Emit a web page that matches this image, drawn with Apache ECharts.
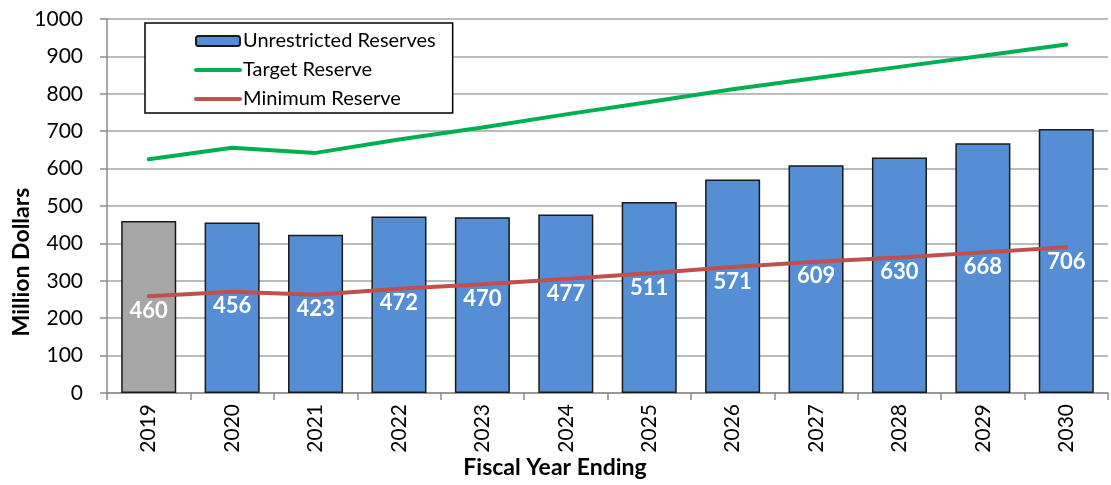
<!DOCTYPE html>
<html>
<head>
<meta charset="utf-8">
<script src="https://cdn.jsdelivr.net/npm/echarts@6/dist/echarts.min.js"></script>
<style>
  html, body { margin: 0; padding: 0; background: #fff; }
  #chart { width: 1111px; height: 485px; }
</style>
</head>
<body>
<div id="chart"></div>
<script>
  const years = ['2019', '2020', '2021', '2022', '2023', '2024', '2025', '2026', '2027', '2028', '2029', '2030']
  const unrestricted = [460, 456, 423, 472, 470, 477, 511, 571, 609, 630, 668, 706]
  const target = [625, 656, 642, 678, 710, 745, 778, 812, 842, 872, 902, 932]
  const minimum = [259, 271, 263, 279, 291, 305, 320, 337, 351, 362, 376, 390]

  const axisGray = '#8c8c8c'
  const gridGray = '#a6a6a6'
  const font = 'Lato, "Open Sans", sans-serif'

  const chart = echarts.init(document.getElementById('chart'))

  // line legend icons: plain thick line, no dot
  const lineIcon = { itemStyle: { opacity: 0 }, lineStyle: { width: 4, cap: 'round' } }

  const option = {
    animation: false,
    textStyle: { fontFamily: font },
    grid: { left: 107, right: 3, top: 19, bottom: 92 },
    legend: {
      orient: 'vertical',
      left: 145,
      top: 23,
      padding: [8, 17, 4, 49],
      itemWidth: 44,
      itemHeight: 10,
      itemGap: 9,
      backgroundColor: '#fff',
      borderColor: '#000',
      borderWidth: 1.5,
      textStyle: { fontSize: 20, color: '#000', fontFamily: font, padding: [0, 0, 0, -2] },
      data: [
        'Unrestricted Reserves',
        Object.assign({ name: 'Target Reserve' }, lineIcon),
        Object.assign({ name: 'Minimum Reserve' }, lineIcon)
      ]
    },
    xAxis: {
      type: 'category',
      data: years,
      boundaryGap: true,
      axisLine: { lineStyle: { color: axisGray, width: 1.5 } },
      axisTick: { show: true, length: 7, lineStyle: { color: axisGray, width: 1.5 } },
      axisLabel: { rotate: 90, margin: 11, fontSize: 21, color: '#000', fontFamily: font }
    },
    yAxis: {
      type: 'value',
      min: 0,
      max: 1000,
      interval: 100,
      axisLine: { show: true, lineStyle: { color: axisGray, width: 1.5 } },
      axisTick: { show: true, length: 7, lineStyle: { color: axisGray, width: 1.5 } },
      axisLabel: { margin: 24, fontSize: 21, color: '#000', fontFamily: font, formatter: v => String(v) },
      splitLine: { lineStyle: { color: gridGray, width: 1.5 } }
    },
    graphic: [
      {
        type: 'text',
        x: 22,
        y: 262,
        rotation: Math.PI / 2,
        style: {
          text: 'Million Dollars',
          font: 'bold 23px ' + font,
          fill: '#000',
          align: 'center',
          verticalAlign: 'middle'
        }
      },
      {
        type: 'text',
        x: 555,
        y: 468,
        style: {
          text: 'Fiscal Year Ending',
          font: 'bold 23px ' + font,
          fill: '#000',
          align: 'center',
          verticalAlign: 'middle'
        }
      }
    ],
    series: [
      {
        name: 'Unrestricted Reserves',
        type: 'bar',
        barCategoryGap: '34%',
        itemStyle: { color: '#558ed5', borderColor: '#1a1a1a', borderWidth: 1.5 },
        data: unrestricted.map((v, i) => i === 0 ? { value: v, itemStyle: { color: '#a6a6a6' } } : v)
      },
      {
        name: 'Target Reserve',
        type: 'line',
        symbol: 'none',
        lineStyle: { color: '#00b050', width: 4, cap: 'round' },
        itemStyle: { color: '#00b050' },
        data: target
      },
      {
        name: 'Minimum Reserve',
        type: 'line',
        symbol: 'circle',
        symbolSize: 1,
        lineStyle: { color: '#c0504d', width: 4, cap: 'round' },
        itemStyle: { color: '#c0504d' },
        label: {
          show: true,
          position: 'bottom',
          distance: 3,
          color: '#fff',
          fontSize: 22,
          fontWeight: 'bold',
          fontFamily: font,
          formatter: p => unrestricted[p.dataIndex]
        },
        data: minimum
      }
    ]
  }

  chart.setOption(option)
</script>
</body>
</html>
